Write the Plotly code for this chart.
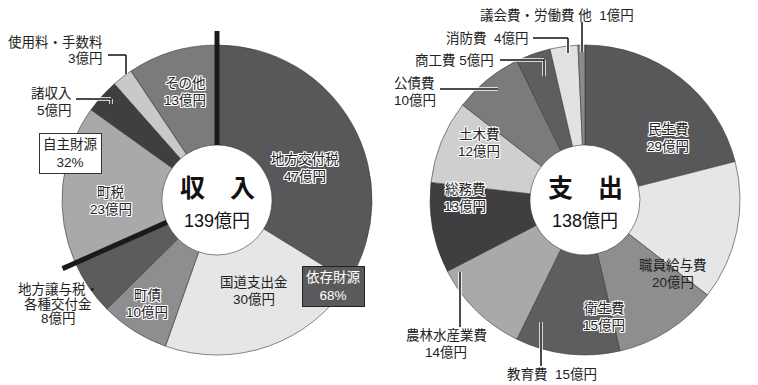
import math
import plotly.graph_objects as go

W, H = 758, 385

# ---------------- data ----------------
inc_labels = ["地方交付税", "国道支出金", "町債", "地方譲与税・各種交付金", "町税", "諸収入", "使用料・手数料", "その他"]
inc_values = [47, 30, 10, 8, 23, 5, 3, 13]
inc_total = "139億円"
exp_labels = ["民生費", "職員給与費", "衛生費", "教育費", "農林水産業費", "総務費", "土木費", "公債費", "商工費", "消防費", "議会費・労働費 他"]
exp_values = [29, 20, 15, 15, 14, 13, 12, 10, 5, 4, 1]
exp_total = "138億円"
own_share = "32%"
dep_share = "68%"

# ---------------- style ----------------
inc_colors = ["#58585a", "#e6e6e7", "#8e8e90", "#5c5c5e", "#a9a9ab", "#3f3f41", "#c9c9ca", "#7b7b7d"]
exp_colors = ["#58585a", "#e6e6e7", "#8e8e90", "#5e5e60", "#a9a9ab", "#3f3f41", "#cfcfd0", "#7b7b7d",
              "#5e5e60", "#e2e2e3", "#8a8a8c"]
FONT = "Liberation Sans, Noto Sans CJK JP"
R = 155          # pie radius in px
HOLE = 0.355
L_C = (217, 200)
R_C = (585, 200)
LS = 16.5        # line spacing px


def px(x, y):
    return x / W, 1 - y / H


def domain(c):
    cx, cy = c
    return dict(x=[(cx - R) / W, (cx + R) / W], y=[1 - (cy + R) / H, 1 - (cy - R) / H])


fig = go.Figure()
for labels, values, colors, c in [(inc_labels, inc_values, inc_colors, L_C),
                                  (exp_labels, exp_values, exp_colors, R_C)]:
    fig.add_trace(go.Pie(
        labels=labels, values=values, hole=HOLE, sort=False, direction="clockwise",
        rotation=0, textinfo="none", hoverinfo="label+value",
        marker=dict(colors=colors, line=dict(color="#3a3a3a", width=0.6)),
        domain=domain(c), showlegend=False,
    ))

HALO = ", ".join(f"{a}px {b}px 0 #fff" for a in (-1, 0, 1) for b in (-1, 0, 1) if (a, b) != (0, 0))

ann = []


def label(lines, x, y, halo=False, xanchor="center", size=13.5, color="#222", spacing=LS, **kw):
    if isinstance(lines, str):
        lines = [lines]
    n = len(lines)
    for i, t in enumerate(lines):
        yy = y + (i - (n - 1) / 2) * spacing
        ax, ay = px(x, yy)
        f = dict(family=FONT, size=size, color=color)
        if halo:
            f["shadow"] = HALO
        ann.append(dict(text=t, x=ax, y=ay, xref="paper", yref="paper", showarrow=False,
                        xanchor=xanchor, yanchor="middle", font=f, **kw))


def v(lst, vals, name):
    return [name, f"{vals[lst.index(name)]}億円"]


def box(lines, x, y, color, bg, border):
    ax, ay = px(x, y)
    ann.append(dict(text="<br>".join(lines), x=ax, y=ay, xref="paper", yref="paper", showarrow=False,
                    xanchor="center", yanchor="middle", align="center",
                    font=dict(family=FONT, size=13.5, color=color),
                    bgcolor=bg, bordercolor=border, borderwidth=1, borderpad=3))


# left pie labels
label(v(inc_labels, inc_values, "その他"), 185, 92, halo=True)
label(v(inc_labels, inc_values, "地方交付税"), 305, 168, halo=True)
label(v(inc_labels, inc_values, "国道支出金"), 254, 291)
label(v(inc_labels, inc_values, "町債"), 147, 304, halo=True)
label(v(inc_labels, inc_values, "町税"), 111, 201, halo=True)
label(["地方譲与税・", "各種交付金", f"{inc_values[3]}億円"], 58, 304, spacing=14.5)
label(v(inc_labels, inc_values, "諸収入"), 74, 102, xanchor="right")
label(v(inc_labels, inc_values, "使用料・手数料"), 105, 50, xanchor="right")
box(["自主財源", own_share], 70, 153, "#222", "#ffffff", "#333")
box(["依存財源", dep_share], 333, 286, "#ffffff", "#5a5a5c", "#222")
label("<b>収　入</b>", L_C[0], 188, size=25, color="#111")
label(inc_total, L_C[0], 221, size=18, color="#111")

# right pie labels
label(v(exp_labels, exp_values, "民生費"), 668, 138, halo=True)
label(v(exp_labels, exp_values, "職員給与費"), 673, 274)
label(v(exp_labels, exp_values, "衛生費"), 604, 317, halo=True)
label(f"教育費  {exp_values[3]}億円", 552, 374)
label(v(exp_labels, exp_values, "農林水産業費"), 446, 344)
label(v(exp_labels, exp_values, "総務費"), 465, 198, halo=True)
label(v(exp_labels, exp_values, "土木費"), 479, 143, halo=True)
label(v(exp_labels, exp_values, "公債費"), 392, 92, xanchor="left")
label(f"商工費 {exp_values[8]}億円", 454, 60)
label(f"消防費  {exp_values[9]}億円", 487, 38)
label(f"議会費・労働費 他  {exp_values[10]}億円", 557, 15)
label("<b>支　出</b>", R_C[0], 188, size=25, color="#111")
label(exp_total, R_C[0], 221, size=18, color="#111")

shapes = []


def seg(x0, y0, x1, y1, color="#111", width=1.5):
    a, b = px(x0, y0)
    c, d = px(x1, y1)
    shapes.append(dict(type="line", xref="paper", yref="paper", x0=a, y0=b, x1=c, y1=d,
                       line=dict(color=color, width=width)))


def poly(points):
    for col, w in (("#ffffff", 3.5), ("#111111", 1.5)):
        for (x0, y0), (x1, y1) in zip(points[:-1], points[1:]):
            seg(x0, y0, x1, y1, col, w)


# leader lines (styling)
poly([(108, 55), (126, 55), (126, 74)])
poly([(76, 99), (111, 99), (111, 104)])
poly([(533, 38), (568, 38), (568, 53)])
poly([(500, 60), (544, 60), (544, 76)])
poly([(440, 89), (498, 89)])
poly([(582, 22), (582, 52)])
poly([(460, 272), (460, 327)])
poly([(541, 322), (541, 366)])

# heavy divider lines between 依存財源 and 自主財源, at slice boundaries
tot = sum(inc_values)
for cum in (0, sum(inc_values[:4])):
    th = 2 * math.pi * cum / tot
    r0, r1 = R * HOLE, 169
    seg(L_C[0] + r0 * math.sin(th), L_C[1] - r0 * math.cos(th),
        L_C[0] + r1 * math.sin(th), L_C[1] - r1 * math.cos(th), "#1a1a1a", 5)

fig.update_layout(width=W, height=H, margin=dict(l=0, r=0, t=0, b=0),
                  paper_bgcolor="white", plot_bgcolor="white",
                  annotations=ann, shapes=shapes)
fig.write_html("out.html")
